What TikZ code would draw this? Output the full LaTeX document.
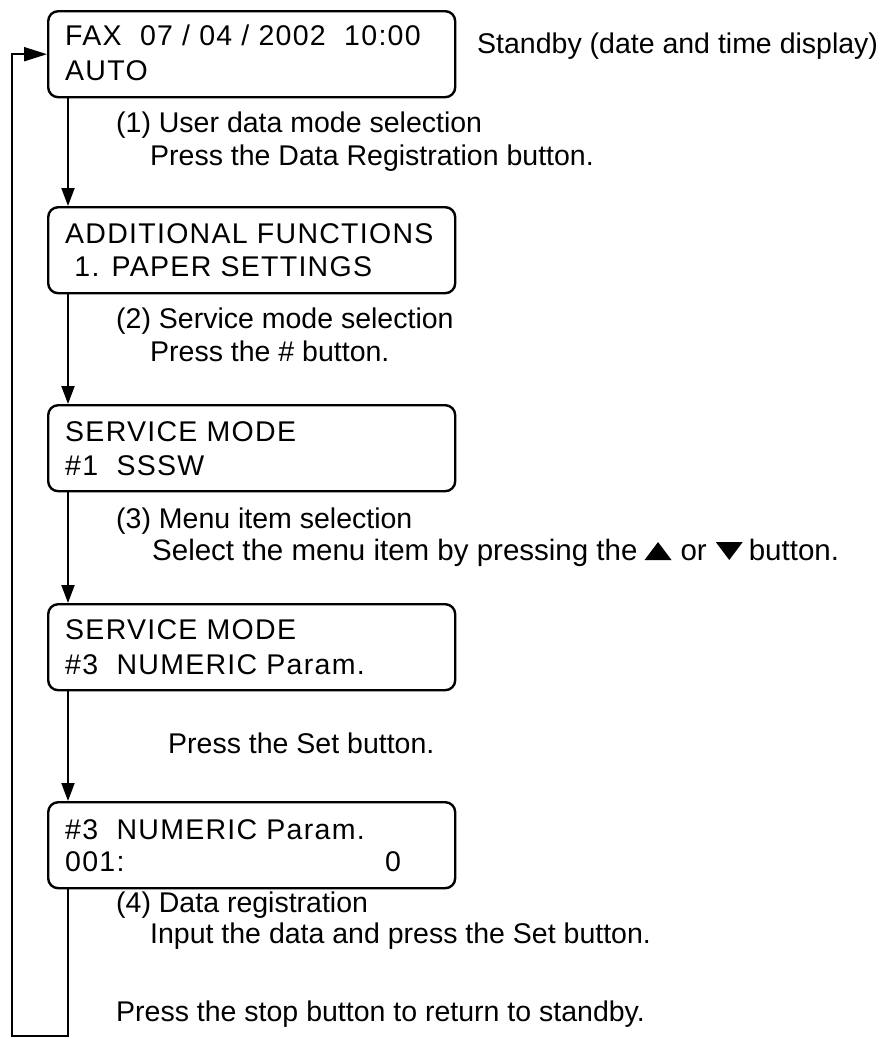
\documentclass[tikz,border=0pt]{standalone}
\usepackage{fontspec}
\setmainfont{Liberation Sans}
\newfontfamily\lcdfont{Liberation Sans}[LetterSpace=4.5]
\usetikzlibrary{arrows.meta}
\newcommand{\uptri}{\tikz[baseline=0pt,x=1pt,y=1pt]\fill (0,0)--(27,0)--(13.5,18)--cycle;}
\newcommand{\downtri}{\tikz[baseline=0pt,x=1pt,y=1pt]\fill (0,18)--(27,18)--(13.5,0)--cycle;}
\begin{document}
\begin{tikzpicture}[x=1pt,y=-1pt,
  lcdbox/.style={draw, line width=2.4pt, rounded corners=10pt, minimum width=407pt, minimum height=86pt, anchor=north west, inner sep=0pt},
  lcdtext/.style={anchor=base west, inner sep=0pt, font=\lcdfont\fontsize{28.5}{34}\selectfont},
  note/.style={anchor=base west, inner sep=0pt, font=\fontsize{28.5}{34}\selectfont},
  flow/.style={line width=2pt, -{Triangle[length=18pt,width=13pt]}},
  loopflow/.style={line width=2pt, line join=miter, -{Triangle[length=23pt,width=14pt]}}
]
\useasboundingbox (0,0) rectangle (893,1039);
% boxes
\node[lcdbox] (b1) at (47,10) {};
\node[lcdbox] (b2) at (47,206) {};
\node[lcdbox] (b3) at (47,404) {};
\node[lcdbox] (b4) at (47,603) {};
\node[lcdbox] (b5) at (47,801) {};
% box texts
\node[lcdtext] (t1a) at (65,45) {FAX\ \ 07 / 04 / 2002\ \ 10:00};
\node[lcdtext] (t1b) at (65,80) {AUTO};
\node[lcdtext] (t2a) at (65,243) {ADDITIONAL FUNCTIONS};
\node[lcdtext] (t2b) at (65,276) {\ 1. PAPER SETTINGS};
\node[lcdtext] (t3a) at (65,441) {SERVICE MODE};
\node[lcdtext] (t3b) at (65,475) {\#1\ \ SSSW};
\node[lcdtext] (t4a) at (65,639) {SERVICE MODE};
\node[lcdtext] (t4b) at (65,674) {\#3\ \ NUMERIC Param.};
\node[lcdtext] (t5a) at (65,839) {\#3\ \ NUMERIC Param.};
\node[lcdtext] (t5b) at (65,871) {\makebox[320pt][l]{001:}0};
% notes
\node[note] (n0) at (477,53) {Standby (date and time display)};
\node[note] (n1a) at (116,132) {(1) User data mode selection};
\node[note] (n1b) at (150,165) {Press the Data Registration button.};
\node[note] (n2a) at (116,328) {(2) Service mode selection};
\node[note] (n2b) at (150,361) {Press the \# button.};
\node[note] (n3a) at (116,528) {(3) Menu item selection};
\node[note, font=\fontsize{29.5}{34}\selectfont] (n3b) at (152,560) {Select the menu item by pressing the\hspace{7pt}\uptri\hspace{9pt}or\hspace{9pt}\downtri\hspace{6pt}button.};
\node[note] (n4) at (168,753) {Press the Set button.};
\node[note] (n5a) at (116,912) {(4) Data registration};
\node[note] (n5b) at (150,943) {Input the data and press the Set button.};
\node[note] (n6) at (116,1021) {Press the stop button to return to standby.};
% connectors
\draw[flow] (b1.south west) ++(21,0) coordinate (s1) -- (s1 |- b2.north);
\draw[flow] (b2.south west) ++(21,0) coordinate (s2) -- (s2 |- b3.north);
\draw[flow] (b3.south west) ++(21,0) coordinate (s3) -- (s3 |- b4.north);
\draw[flow] (b4.south west) ++(21,0) coordinate (s4) -- (s4 |- b5.north);
\coordinate (s5) at ([xshift=21pt]b5.south west);
\coordinate (lb) at (12,1036);
\draw[loopflow] (s5) -- (s5 |- lb) -- (lb) -- (lb |- b1.west) -- (b1.west);
\end{tikzpicture}
\end{document}
